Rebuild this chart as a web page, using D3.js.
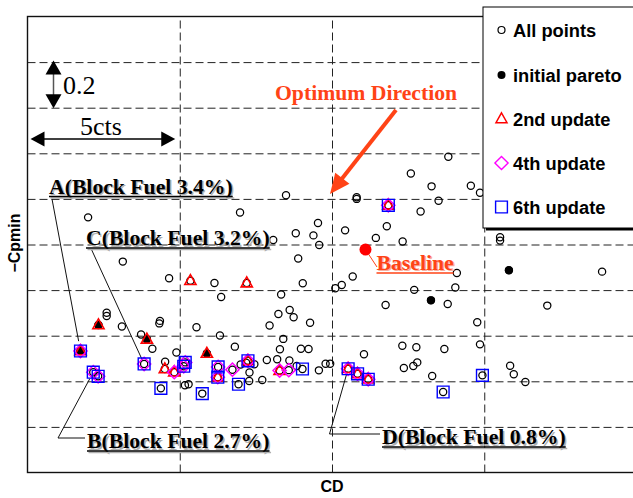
<!DOCTYPE html>
<html>
<head>
<meta charset="utf-8">
<script src="https://cdn.jsdelivr.net/npm/d3@7"></script>
<style>
  html, body { margin: 0; padding: 0; background: #fff; overflow: hidden; }
  svg { display: block; }
</style>
</head>
<body>
<svg id="chart" width="633" height="498"></svg>
<script>
// CD is measured in counts from the left frame, −Cpmin relative to the lower frame.
const allPoints = [
  [3.13,0.925],[4.65,0.852],[5.35,0.841],[6.14,0.831],[7.20,0.831],[8.89,0.939],[9.04,0.830],[8.33,0.781],
  [6.36,0.770],[2.60,0.701],[2.60,0.686],[2.33,0.647],[3.10,0.640],[4.35,0.665],[4.33,0.654],[5.55,0.637],
  [8.24,0.695],[8.61,0.713],[8.74,0.681],[9.28,0.657],[7.95,0.645],[3.73,0.605],[3.92,0.584],[4.10,0.543],
  [6.32,0.601],[8.40,0.586],[6.81,0.552],[8.29,0.541],[8.98,0.543],[9.23,0.542],[4.89,0.526],[5.89,0.522],
  [1.74,0.533],[3.83,0.476],[4.52,0.486],[4.51,0.454],[4.82,0.440],[5.18,0.483],[5.13,0.466],[6.26,0.463],
  [6.25,0.418],[6.73,0.451],[7.00,0.474],[7.18,0.481],[7.24,0.490],[7.45,0.475],[7.29,0.439],[7.28,0.401],
  [7.71,0.406],[7.86,0.493],[8.20,0.497],[8.60,0.491],[8.84,0.467],[8.28,0.447],[8.58,0.449],[9.03,0.454],
  [9.57,0.448],[2.16,0.440],[2.32,0.422],[4.38,0.369],[5.17,0.383],[5.29,0.387],[5.74,0.346],[6.93,0.387],
  [1.99,1.119],[6.98,1.140],[8.49,1.216],[9.54,1.094],[8.81,1.049],[9.39,1.040],[8.07,1.020],[9.58,0.998],
  [10.81,1.207],[10.81,1.200],[11.85,1.172],[12.91,1.145],[11.80,1.080],[10.43,1.062],[11.44,1.029],[12.32,1.013],
  [13.82,1.385],[12.59,1.311],[13.27,1.255],[14.56,1.258],[14.86,1.227],[13.50,1.192],[15.52,1.032],[15.52,1.017],
  [14.10,0.875],[15.81,0.887],[18.87,0.881],[10.68,0.860],[10.32,0.822],[10.11,0.808],[12.70,0.801],[14.05,0.811],
  [13.25,0.755],[13.80,0.739],[11.76,0.735],[17.07,0.732],[14.77,0.659],[14.86,0.562],[12.31,0.556],[12.77,0.549],
  [13.69,0.542],[11.05,0.519],[9.79,0.477],[9.94,0.477],[12.36,0.458],[12.67,0.467],[12.80,0.483],[13.29,0.423],
  [15.85,0.468],[15.97,0.431],[16.35,0.397],[14.94,0.426],[13.65,0.353],[10.53,0.455],[10.84,0.433],[11.19,0.409]
];
const initialPareto = [
  [2.33,0.647],[3.92,0.584],[5.89,0.522],[1.74,0.533],[15.81,0.887],[13.25,0.755]
];
const update2 = [
  [5.35,0.841],[7.20,0.831],[2.33,0.647],[3.92,0.584],[5.89,0.522],[1.74,0.533],[4.51,0.454],[4.82,0.440],
  [6.25,0.418],[7.24,0.490],[8.28,0.447],[11.85,1.172],[10.53,0.455],[10.84,0.433],[11.19,0.409]
];
const update4 = [
  [1.74,0.533],[3.83,0.476],[4.82,0.440],[5.18,0.483],[5.13,0.466],[6.26,0.463],[6.25,0.418],[6.73,0.451],
  [7.24,0.490],[8.28,0.447],[8.58,0.449],[2.16,0.440],[2.32,0.422],[11.85,1.172],[10.53,0.455],[10.84,0.433],
  [11.19,0.409]
];
const update6 = [
  [1.74,0.533],[3.83,0.476],[5.18,0.483],[5.13,0.466],[6.26,0.463],[6.25,0.418],[7.24,0.490],[9.03,0.454],
  [2.16,0.440],[2.32,0.422],[4.38,0.369],[5.74,0.346],[6.93,0.387],[11.85,1.172],[14.94,0.426],[13.65,0.353],
  [10.53,0.455],[10.84,0.433],[11.19,0.409]
];
const baselinePoint = [11.10, 0.978];
const xGridTicks = [5, 10, 15];
const yGridTicks = [0.2, 0.4, 0.6, 0.8, 1.0, 1.2, 1.4, 1.6, 1.8];
const legendLabels = ["All points", "initial pareto", "2nd update", "4th update", "6th update"];
const calloutNames = ["A(Block Fuel 3.4%)", "C(Block Fuel 3.2%)", "B(Block Fuel 2.7%)", "D(Block Fuel 0.8%)"];
const calloutTargets = [[1.74,0.533], [3.83,0.476], [2.16,0.440], [10.53,0.455]];
const xStep = 5;      // cts per grid cell
const yStep = 0.2;    // −Cpmin per grid cell

const svg = d3.select("#chart");
const x = d3.scaleLinear().domain([0, 20]).range([27.5, 636.5]);
const y = d3.scaleLinear().domain([0, 2]).range([472.5, 16.5]);

const serif = "'Liberation Serif','Times New Roman',serif";
const sans = "'Liberation Sans',Arial,sans-serif";
const accent = "#ff4316";
const labelSize = 21.7;

// dashed grid
const gridV = svg.append("g").attr("transform", `translate(0,${y(0)})`)
  .call(d3.axisBottom(x).tickValues(xGridTicks).tickSize(-(y(0) - y(2))).tickFormat(""));
const gridH = svg.append("g").attr("transform", `translate(${x(0)},0)`)
  .call(d3.axisLeft(y).tickValues(yGridTicks).tickSize(-(x(20) - x(0))).tickFormat(""));
[gridV, gridH].forEach(g => {
  g.select(".domain").remove();
  g.selectAll(".tick line").attr("stroke", "#222").attr("stroke-width", 1).attr("stroke-dasharray", "8,4");
});

// frame
svg.append("rect")
  .attr("x", x(0)).attr("y", y(2)).attr("width", x(20) - x(0)).attr("height", y(0) - y(2))
  .attr("fill", "none").attr("stroke", "#111").attr("stroke-width", 1.4);

// marker shapes
const shapes = {
  tri: "M0,-6.2L5.6,3.8L-5.6,3.8Z",
  diamond: "M0,-6.6L6.6,0L0,6.6L-6.6,0Z",
  square: "M-5.9,-5.9H5.9V5.9H-5.9Z"
};

// helper for leader-line endpoints a little short of the mark
function shorten(from, to, gap) {
  const dx = to[0] - from[0], dy = to[1] - from[1];
  const len = Math.hypot(dx, dy);
  return [to[0] - dx / len * gap, to[1] - dy / len * gap];
}

// callout labels with leader lines
const calloutLayout = [
  { tx: 49,  ty: 193.5, start: [52, 199],  elbow: null, gap: 10 },
  { tx: 86,  ty: 245,   start: [91.5, 249.5], elbow: null, gap: 4 },
  { tx: 87,  ty: 448,   start: [58, 438],  elbow: [85, 438], gap: 7 },
  { tx: 382, ty: 444,   start: [329.5, 434], elbow: [380, 434], gap: 3 }
];
const leaders = svg.append("g").attr("stroke", "#111").attr("stroke-width", 1).attr("fill", "none");
calloutNames.forEach((name, i) => {
  const L = calloutLayout[i];
  const p = [x(calloutTargets[i][0]), y(calloutTargets[i][1])];
  const end = shorten(L.start, p, L.gap);
  leaders.append("line").attr("x1", L.start[0]).attr("y1", L.start[1]).attr("x2", end[0]).attr("y2", end[1]);
  if (L.elbow) {
    leaders.append("line").attr("x1", L.start[0]).attr("y1", L.start[1]).attr("x2", L.elbow[0]).attr("y2", L.elbow[1]);
  }
});

// data marks
const marks = svg.append("g");
marks.selectAll("circle.all").data(allPoints).join("circle")
  .attr("class", "all")
  .attr("cx", d => x(d[0])).attr("cy", d => y(d[1])).attr("r", 3.6)
  .attr("fill", "none").attr("stroke", "#000").attr("stroke-width", 1.25);
marks.selectAll("circle.ini").data(initialPareto).join("circle")
  .attr("class", "ini")
  .attr("cx", d => x(d[0])).attr("cy", d => y(d[1])).attr("r", 4)
  .attr("fill", "#000");
marks.selectAll("path.u2").data(update2).join("path")
  .attr("class", "u2").attr("d", shapes.tri)
  .attr("transform", d => `translate(${x(d[0])},${y(d[1])})`)
  .attr("fill", "none").attr("stroke", "#ff0000").attr("stroke-width", 1.6);
marks.selectAll("path.u4").data(update4).join("path")
  .attr("class", "u4").attr("d", shapes.diamond)
  .attr("transform", d => `translate(${x(d[0])},${y(d[1])})`)
  .attr("fill", "none").attr("stroke", "#ff00ff").attr("stroke-width", 1.5);
marks.selectAll("path.u6").data(update6).join("path")
  .attr("class", "u6").attr("d", shapes.square)
  .attr("transform", d => `translate(${x(d[0])},${y(d[1])})`)
  .attr("fill", "none").attr("stroke", "#0000ff").attr("stroke-width", 1.4);

// callout text with soft drop shadow and underline
calloutNames.forEach((name, i) => {
  const L = calloutLayout[i];
  const g = svg.append("g").attr("font-family", serif).attr("font-weight", "bold").attr("font-size", labelSize);
  g.append("text").attr("x", L.tx + 1.5).attr("y", L.ty + 1.5).attr("fill", "#b0b0b0").text(name);
  const t = g.append("text").attr("x", L.tx).attr("y", L.ty).attr("fill", "#000").text(name);
  const w = t.node().getComputedTextLength();
  g.append("line").attr("x1", L.tx + 1.5).attr("x2", L.tx + w + 1.5).attr("y1", L.ty + 4.5).attr("y2", L.ty + 4.5)
    .attr("stroke", "#b0b0b0").attr("stroke-width", 1.5);
  g.append("line").attr("x1", L.tx).attr("x2", L.tx + w).attr("y1", L.ty + 3).attr("y2", L.ty + 3)
    .attr("stroke", "#000").attr("stroke-width", 1.5);
});

// baseline design
const bx = x(baselinePoint[0]), by = y(baselinePoint[1]);
svg.append("line").attr("x1", bx).attr("y1", by).attr("x2", 377).attr("y2", 267)
  .attr("stroke", accent).attr("stroke-width", 1);
svg.append("circle").attr("cx", bx).attr("cy", by).attr("r", 6).attr("fill", "#ff0000");
const bl = svg.append("g").attr("font-family", serif).attr("font-weight", "bold").attr("font-size", labelSize);
bl.append("text").attr("x", 378).attr("y", 271).attr("fill", "#f8b0a0").text("Baseline");
const blText = bl.append("text").attr("x", 376.5).attr("y", 269.5).attr("fill", accent).text("Baseline");
const blw = blText.node().getComputedTextLength();
bl.append("line").attr("x1", 376.5).attr("x2", 376.5 + blw).attr("y1", 273).attr("y2", 273)
  .attr("stroke", accent).attr("stroke-width", 1.5);

// optimum direction arrow
svg.append("text").attr("x", 275).attr("y", 100)
  .attr("font-family", serif).attr("font-weight", "bold").attr("font-size", labelSize)
  .attr("fill", accent).text("Optimum Direction");
(function () {
  const s = [396, 110], tip = [330, 194];
  const dx = tip[0] - s[0], dy = tip[1] - s[1], len = Math.hypot(dx, dy);
  const ux = dx / len, uy = dy / len, nx = -uy, ny = ux;
  const hl = 20, hw = 9;
  const b = [tip[0] - ux * hl, tip[1] - uy * hl];
  svg.append("line").attr("x1", s[0]).attr("y1", s[1]).attr("x2", b[0] + ux * 2).attr("y2", b[1] + uy * 2)
    .attr("stroke", accent).attr("stroke-width", 4);
  svg.append("path")
    .attr("d", `M${tip[0]},${tip[1]}L${b[0] + nx * hw},${b[1] + ny * hw}L${b[0] - nx * hw},${b[1] - ny * hw}Z`)
    .attr("fill", accent);
})();

// scale keys: one grid cell in each direction
function arrowHead(px, py, ax, ay, len, half) {
  const nx = -ay, ny = ax;
  const bx = px - ax * len, by = py - ay * len;
  return `M${px},${py}L${bx + nx * half},${by + ny * half}L${bx - nx * half},${by - ny * half}Z`;
}
const hx0 = x(0) + 3, hx1 = x(xStep) - 4.5, hy = 139;
svg.append("line").attr("x1", hx0 + 8).attr("x2", hx1 - 8).attr("y1", hy).attr("y2", hy)
  .attr("stroke", "#000").attr("stroke-width", 1.5);
svg.append("path").attr("d", arrowHead(hx0, hy, -1, 0, 14, 7.5)).attr("fill", "#000");
svg.append("path").attr("d", arrowHead(hx1, hy, 1, 0, 14, 7.5)).attr("fill", "#000");
svg.append("text").attr("x", (hx0 + hx1) / 2 - 2).attr("y", 134.5).attr("text-anchor", "middle")
  .attr("font-family", serif).attr("font-size", 26).attr("fill", "#000").text(xStep + "cts");

const vx = 53.5, vy0 = y(1.8) - 1.5, vy1 = y(1.8 - yStep) + 0.5;
svg.append("line").attr("x1", vx).attr("x2", vx).attr("y1", vy0 + 8).attr("y2", vy1 - 8)
  .attr("stroke", "#555").attr("stroke-width", 1.5);
svg.append("path").attr("d", arrowHead(vx, vy0, 0, -1, 14, 8)).attr("fill", "#000");
svg.append("path").attr("d", arrowHead(vx, vy1, 0, 1, 14, 8)).attr("fill", "#000");
svg.append("text").attr("x", 63).attr("y", 94)
  .attr("font-family", serif).attr("font-size", 26).attr("fill", "#000").text(String(yStep));

// axis titles
svg.append("text").attr("x", 332).attr("y", 492).attr("text-anchor", "middle")
  .attr("font-family", sans).attr("font-weight", "bold").attr("font-size", 16).text("CD");
svg.append("text").attr("transform", "translate(20,243) rotate(-90)").attr("text-anchor", "middle")
  .attr("font-family", sans).attr("font-weight", "bold").attr("font-size", 16).text("−Cpmin");

// legend
const lg = svg.append("g");
lg.append("rect").attr("x", 486).attr("y", 10).attr("width", 200).attr("height", 220.5).attr("fill", "#000");
lg.append("rect").attr("x", 483).attr("y", 7).attr("width", 200).attr("height", 221)
  .attr("fill", "#fff").attr("stroke", "#000").attr("stroke-width", 1);
const rowY = [30, 75, 119, 163, 207];
const symX = 501.5;
legendLabels.forEach((lab, i) => {
  const cy = rowY[i];
  if (i === 0) lg.append("circle").attr("cx", symX).attr("cy", cy).attr("r", 3.5)
    .attr("fill", "none").attr("stroke", "#000").attr("stroke-width", 1.2);
  if (i === 1) lg.append("circle").attr("cx", symX).attr("cy", cy).attr("r", 4).attr("fill", "#000");
  if (i === 2) lg.append("path").attr("d", shapes.tri).attr("transform", `translate(${symX},${cy})`)
    .attr("fill", "none").attr("stroke", "#ff0000").attr("stroke-width", 1.4);
  if (i === 3) lg.append("path").attr("d", shapes.diamond).attr("transform", `translate(${symX},${cy})`)
    .attr("fill", "none").attr("stroke", "#ff00ff").attr("stroke-width", 1.4);
  if (i === 4) lg.append("path").attr("d", shapes.square).attr("transform", `translate(${symX},${cy})`)
    .attr("fill", "none").attr("stroke", "#0000ff").attr("stroke-width", 1.4);
  lg.append("text").attr("x", 513).attr("y", cy + 6.5)
    .attr("font-family", sans).attr("font-weight", "bold").attr("font-size", 18.3).attr("fill", "#000").text(lab);
});
</script>
</body>
</html>
